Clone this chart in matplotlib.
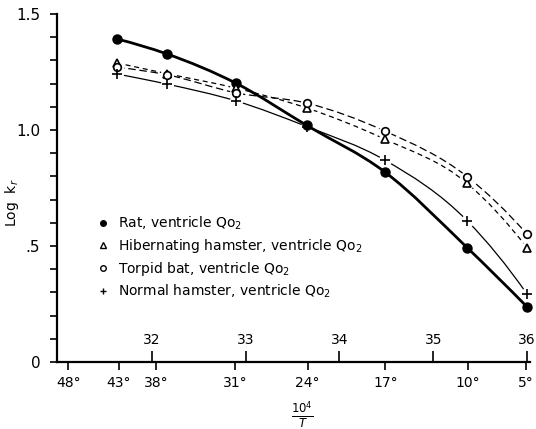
import matplotlib
matplotlib.use("Agg")
import matplotlib.pyplot as plt
import numpy as np
from matplotlib.path import Path
from matplotlib.patches import PathPatch
from matplotlib.lines import Line2D

# positions on the 10^4/T axis of the measured temperatures (43, 38, 31, 24, 17, 10, 5 C)
inv_t = [31.63, 32.16, 32.90, 33.65, 34.48, 35.36, 36.0]

# log k_r
rat = [1.392, 1.328, 1.201, 1.020, 0.820, 0.493, 0.237]
hib_hamster = [1.289, 1.243, 1.180, 1.095, 0.961, 0.770, 0.491]
torpid_bat = [1.270, 1.238, 1.160, 1.116, 0.996, 0.799, 0.550]
norm_hamster = [1.241, 1.198, 1.125, 1.015, 0.871, 0.609, 0.292]

# bottom scale (degrees C) and top scale (10^4/T)
temp_pos = [31.11, 31.65, 32.05, 32.89, 33.66, 34.49, 35.37, 35.99]
temp_labels = ['48°', '43°', '38°', '31°', '24°', '17°', '10°', '5°']
inv_ticks = [32, 33, 34, 35, 36]
inv_labels = ['32', '33', '34', '35', '36']

legend_labels = ['Rat, ventricle Qo$_2$',
                 'Hibernating hamster, ventricle Qo$_2$',
                 'Torpid bat, ventricle Qo$_2$',
                 'Normal hamster, ventricle Qo$_2$']


def smooth_curve(x, y):
    # smooth line through the points: cubic Hermite pieces drawn as Bezier segments
    x = np.asarray(x, float)
    y = np.asarray(y, float)
    h = np.diff(x)
    d = np.diff(y) / h
    m = np.empty_like(y)
    m[1:-1] = (d[:-1] * h[1:] + d[1:] * h[:-1]) / (h[:-1] + h[1:])
    m[0] = d[0] + (d[0] - d[1]) * h[0] / (h[0] + h[1])
    m[-1] = d[-1] + (d[-1] - d[-2]) * h[-1] / (h[-1] + h[-2])
    verts = [(x[0], y[0])]
    codes = [Path.MOVETO]
    for i in range(len(x) - 1):
        k = h[i] / 3
        verts += [(x[i] + k, y[i] + m[i] * k),
                  (x[i + 1] - k, y[i + 1] - m[i + 1] * k),
                  (x[i + 1], y[i + 1])]
        codes += [Path.CURVE4] * 3
    return Path(verts, codes)


fig = plt.figure(figsize=(5.36, 4.29), dpi=100)
ax = fig.add_axes([57 / 536, 1 - 362 / 429, 473 / 536, 348 / 429])

ax.set_xlim(30.99, 36.03)
ax.set_ylim(0, 1.5)

# curves
ax.add_patch(PathPatch(smooth_curve(inv_t, norm_hamster), fill=False, lw=0.9,
                       edgecolor='black', zorder=1))
ax.add_patch(PathPatch(smooth_curve(inv_t, torpid_bat), fill=False, lw=0.9,
                       edgecolor='black', linestyle=(0, (6, 3)), zorder=1))
ax.add_patch(PathPatch(smooth_curve(inv_t, hib_hamster), fill=False, lw=0.9,
                       edgecolor='black', linestyle=(0, (4, 3)), zorder=1))

# white gaps round the open markers
for ys in (norm_hamster, torpid_bat, hib_hamster):
    ax.plot(inv_t, ys, ls='none', marker='o', ms=8.5, mfc='white', mec='white',
            zorder=2, clip_on=False)

ax.add_patch(PathPatch(smooth_curve(inv_t, rat), fill=False, lw=2.0,
                       edgecolor='black', zorder=3, capstyle='round'))

ax.plot(inv_t, rat, ls='none', marker='o', ms=6.5, color='black', zorder=4, clip_on=False)
ax.plot(inv_t, hib_hamster, ls='none', marker='^', ms=5.5, mfc='white', mec='black',
        mew=1.2, zorder=4, clip_on=False)
ax.plot(inv_t, torpid_bat, ls='none', marker='o', ms=5.5, mfc='white', mec='black',
        mew=1.2, zorder=4, clip_on=False)
ax.plot(inv_t, norm_hamster, ls='none', marker='+', ms=7, color='black',
        mew=1.2, zorder=4, clip_on=False)

# axes styling
for s in ('top', 'right'):
    ax.spines[s].set_visible(False)
for s in ('left', 'bottom'):
    ax.spines[s].set_linewidth(1.6)

ax.set_yticks([0, 0.5, 1.0, 1.5], labels=['0', '.5', '1.0', '1.5'])
ax.set_yticks(np.arange(0, 1.51, 0.1), minor=True)
ax.tick_params(axis='y', which='both', direction='out', length=5, width=1.2,
               labelsize=11, pad=7)

ax.set_xticks(temp_pos, labels=temp_labels)
ax.tick_params(axis='x', direction='out', length=6, width=1.2, labelsize=10, pad=4)

sec = ax.secondary_xaxis(0.0)
sec.set_alignment('top')
sec.spines['top'].set_visible(False)
sec.set_xticks(inv_ticks, labels=inv_labels)
sec.tick_params(axis='x', direction='out', length=8, width=1.2, labelsize=10, pad=3)

# legend
handles = [
    Line2D([], [], ls='none', marker='o', ms=4, color='black'),
    Line2D([], [], ls='none', marker='^', ms=4.5, mfc='white', mec='black', mew=1),
    Line2D([], [], ls='none', marker='o', ms=4, mfc='white', mec='black', mew=1),
    Line2D([], [], ls='none', marker='+', ms=5, color='black', mew=1),
]
ax.legend(handles, legend_labels, loc='upper left', bbox_to_anchor=(0.083, 0.424),
          frameon=False, fontsize=10, handlelength=1, handletextpad=0.6,
          labelspacing=0.36, borderpad=0, borderaxespad=0)

fig.text(12 / 536, 1 - 203 / 429, 'Log  k$_r$', rotation=90, ha='center', va='center',
         fontsize=10)
fig.text(302 / 536, 1 - 415 / 429, r'$\frac{10^4}{T}$', ha='center', va='center',
         fontsize=12)

fig.savefig('out.png', dpi=100)
